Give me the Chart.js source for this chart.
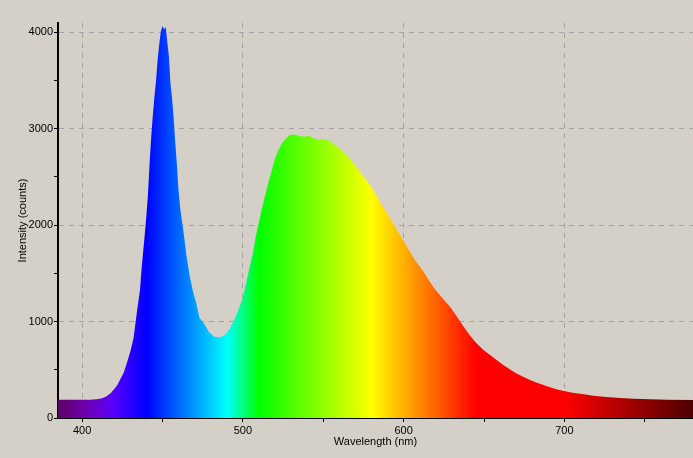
<!DOCTYPE html>
<html>
<head>
<meta charset="utf-8">
<script src="https://cdn.jsdelivr.net/npm/chart.js@4/dist/chart.umd.min.js"></script>
<style>
  html, body { margin: 0; padding: 0; background: #d4d0c8; }
  #wrap { width: 693px; height: 458px; }
</style>
</head>
<body>
<div id="wrap"><canvas id="spectrum" width="693" height="458"></canvas></div>
<script>
// wavelength (nm) and intensity (counts)
const wavelengths = [385, 395, 405, 409, 412, 415, 418, 420, 422, 424, 426, 428, 430, 432, 434, 436, 437, 439, 440, 441,
  442, 443, 444, 445, 446, 447, 448, 449, 450, 451, 452, 453, 454, 455, 456, 457, 458, 459, 460, 461,
  462, 463, 465, 467, 469, 471, 473, 476, 479, 482, 485, 487, 489, 492, 495, 498, 500, 502, 504, 506,
  508, 510, 512, 514, 516, 518, 520, 522, 524, 526, 529, 532, 535, 538, 541, 544, 547, 550, 553, 556,
  559, 562, 565, 568, 571, 574, 577, 580, 583, 586, 589, 592, 595, 598, 601, 604, 607, 610, 613, 616,
  619, 622, 625, 629, 633, 637, 641, 645, 650, 654, 658, 662, 666, 670, 674, 679, 683, 687, 691, 695,
  699, 705, 712, 718, 726, 735, 743, 753, 764, 780];
const counts = [190, 190, 190, 194, 203, 222, 262, 300, 345, 410, 475, 580, 690, 830, 1090, 1330, 1550, 1910, 2100, 2330,
  2650, 2920, 3140, 3330, 3500, 3720, 3880, 4010, 4065, 4030, 4055, 3900, 3750, 3460, 3310, 3100, 2840, 2620, 2360, 2180,
  2050, 1940, 1673, 1465, 1310, 1190, 1040, 975, 890, 845, 836, 845, 862, 930, 1034, 1154, 1250, 1397, 1550, 1690,
  1880, 2030, 2180, 2320, 2450, 2570, 2690, 2770, 2840, 2883, 2935, 2940, 2924, 2917, 2924, 2900, 2885, 2890, 2880, 2845,
  2810, 2765, 2720, 2660, 2595, 2525, 2460, 2390, 2305, 2220, 2140, 2055, 1975, 1890, 1805, 1722, 1638, 1570, 1500, 1420,
  1345, 1285, 1225, 1150, 1055, 955, 861, 780, 700, 650, 600, 550, 505, 465, 430, 392, 365, 342, 318, 297,
  283, 263, 246, 231, 218, 207, 200, 194, 190, 187];

const xTicks = [400, 450, 500, 550, 600, 650, 700, 750];
const yTicks = [0, 500, 1000, 1500, 2000, 2500, 3000, 3500, 4000];

// colour of the light at each wavelength, used for the fill gradient
const spectrumStops = [
  [385, 'rgb(90,0,99)'], [400, 'rgb(110,0,166)'], [410, 'rgb(105,0,210)'], [420, 'rgb(85,0,255)'],
  [440, 'rgb(0,0,255)'], [490, 'rgb(0,255,255)'], [510, 'rgb(0,255,0)'], [580, 'rgb(255,255,0)'],
  [645, 'rgb(255,0,0)'], [700, 'rgb(255,0,0)'], [740, 'rgb(166,0,0)'], [780, 'rgb(77,0,0)']
];

const font = { family: '"Liberation Sans", Arial, sans-serif', size: 11 };

function spectrumFill(context) {
  const chart = context.chart;
  const area = chart.chartArea;
  if (!area) return 'rgba(0,0,0,0)';
  const x = chart.scales.x;
  const g = chart.ctx.createLinearGradient(area.left, 0, area.right, 0);
  spectrumStops.forEach(([w, c]) => {
    let pos = (x.getPixelForValue(w) - area.left) / (area.right - area.left);
    g.addColorStop(Math.min(1, Math.max(0, pos)), c);
  });
  return g;
}

let ctx = document.getElementById('spectrum').getContext('2d');
let chart = new Chart(ctx, {
  type: 'line',
  data: {
    datasets: [{
      label: 'Intensity',
      data: wavelengths.map((w, i) => ({ x: w, y: counts[i] })),
      backgroundColor: spectrumFill,
      borderWidth: 0,
      pointRadius: 0,
      fill: 'origin',
      tension: 0
    }]
  },
  options: {
    responsive: false,
    animation: false,
    devicePixelRatio: 1,
    layout: { padding: { top: 23, right: 0, bottom: 0, left: 0 } },
    plugins: { legend: { display: false }, tooltip: { enabled: false } },
    scales: {
      x: {
        type: 'linear',
        min: 385,
        max: 780,
        afterBuildTicks: s => { s.ticks = xTicks.map(v => ({ value: v })); },
        afterFit: s => { s.height = 40; },
        ticks: {
          color: '#000',
          font: font,
          padding: 2,
          maxRotation: 0,
          autoSkip: false,
          callback: v => (v % 100 === 0 ? String(v) : '')
        },
        grid: {
          color: c => (c.tick && c.tick.value % 100 === 0 ? '#a4a4a4' : 'rgba(0,0,0,0)'),
          borderDash: [5, 5],
          tickColor: '#000',
          tickLength: 4,
          tickWidth: 1
        },
        border: { color: '#000', width: 2, dash: [5, 5] },
        title: { display: true, text: 'Wavelength (nm)', color: '#000', font: font, padding: { top: 0, bottom: 9 } }
      },
      y: {
        min: 0,
        max: 4096,
        afterBuildTicks: s => { s.ticks = yTicks.map(v => ({ value: v })); },
        afterFit: s => { s.width = 58; },
        ticks: {
          color: '#000',
          font: font,
          padding: 1,
          callback: v => (v % 1000 === 0 ? String(v) : '')
        },
        grid: {
          color: c => (c.tick && c.tick.value % 1000 === 0 && c.tick.value > 0 ? '#a4a4a4' : 'rgba(0,0,0,0)'),
          borderDash: [5, 5],
          tickColor: '#000',
          tickLength: 4,
          tickWidth: 1
        },
        border: { color: '#000', width: 2, dash: [5, 5] },
        title: { display: true, text: 'Intensity (counts)', color: '#000', font: font, padding: { top: 16, bottom: 0 } }
      }
    }
  }
});
</script>
</body>
</html>
